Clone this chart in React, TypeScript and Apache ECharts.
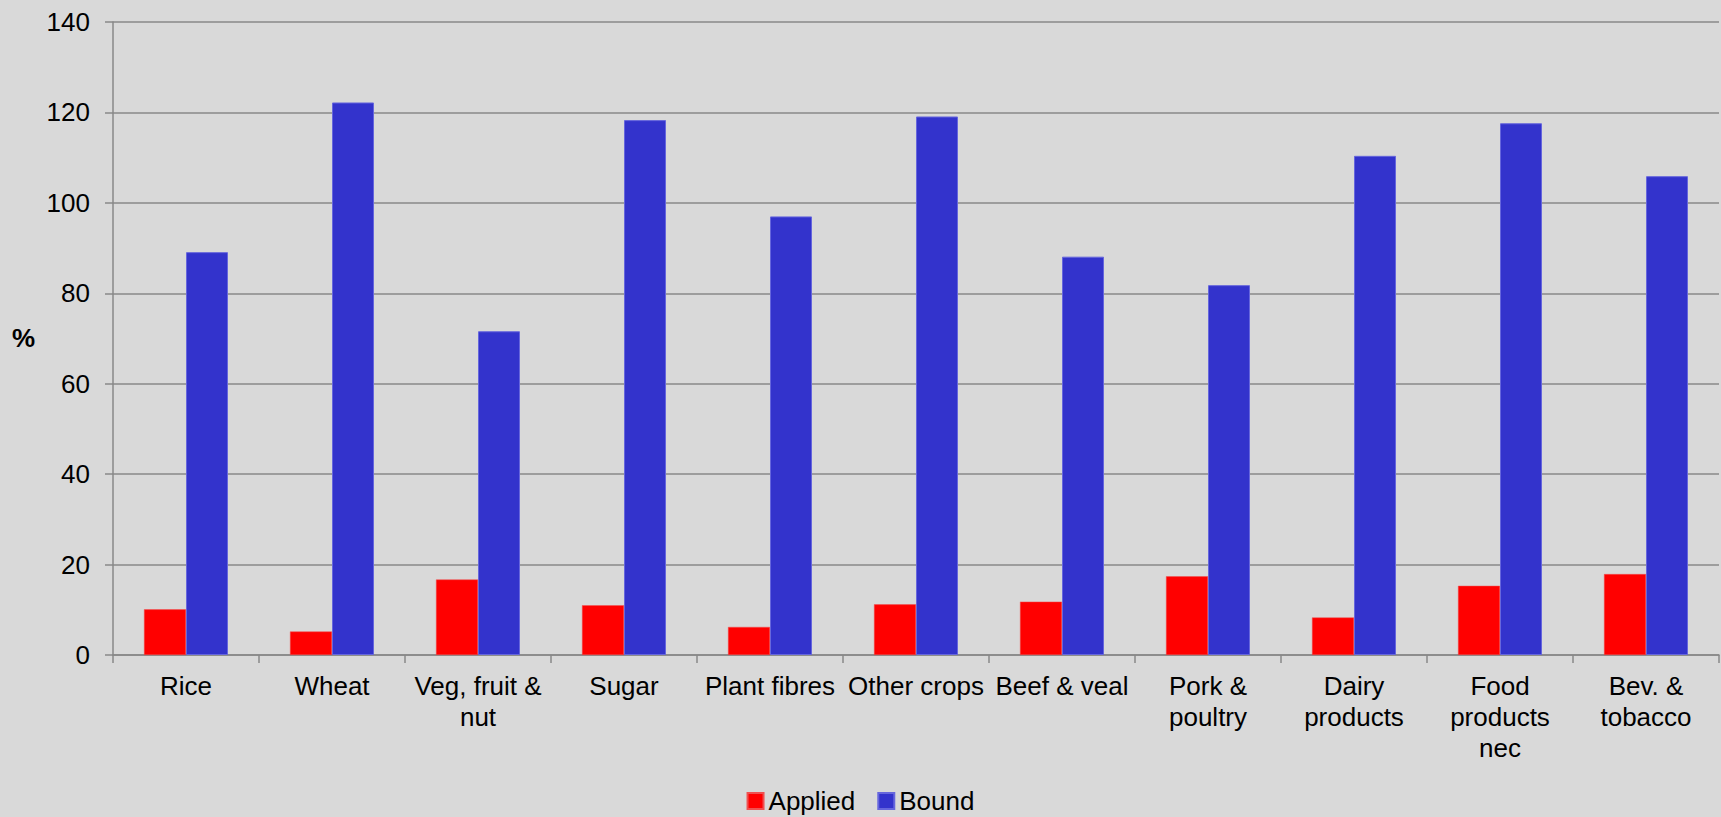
import React, { useEffect, useRef } from "react";
import * as echarts from "echarts";

const categories = [
  "Rice",
  "Wheat",
  "Veg, fruit &\nnut",
  "Sugar",
  "Plant fibres",
  "Other crops",
  "Beef & veal",
  "Pork &\npoultry",
  "Dairy\nproducts",
  "Food\nproducts\nnec",
  "Bev. &\ntobacco",
];
const applied = [10.1, 5.2, 16.7, 11.0, 6.2, 11.2, 11.8, 17.4, 8.3, 15.3, 17.9];
const bound = [89.1, 122.2, 71.6, 118.3, 97.0, 119.1, 88.1, 81.8, 110.4, 117.6, 105.9];
const yTicks = { min: 0, max: 140, interval: 20 };

const FONT = "'Liberation Sans', Arial, sans-serif";

export default function App() {
  const ref = useRef<HTMLDivElement>(null);
  useEffect(() => {
    if (!ref.current) return;
    const chart = echarts.init(ref.current, null, { renderer: "svg" });
    chart.setOption({
      animation: false,
      backgroundColor: "#d9d9d9",
      textStyle: { fontFamily: FONT },
      grid: { left: 113, right: 2, top: 22, bottom: 162, containLabel: false },
      legend: {
        data: ["Applied", "Bound"],
        left: "center",
        top: 788,
        padding: 0,
        itemWidth: 16,
        itemHeight: 16,
        itemGap: 22,
        textStyle: { fontSize: 26, color: "#000", fontFamily: FONT },
        icon: "rect",
      },
      graphic: [
        {
          type: "text",
          left: 12,
          top: 325,
          style: { text: "%", fontSize: 26, fontWeight: "bold", fill: "#000", fontFamily: FONT },
        },
      ],
      xAxis: {
        type: "category",
        data: categories,
        axisLine: { lineStyle: { color: "#888", width: 1.5 } },
        axisTick: { show: true, length: 8, alignWithLabel: false, lineStyle: { color: "#888", width: 1.5 } },
        axisLabel: {
          interval: 0,
          color: "#000",
          fontSize: 26,
          lineHeight: 31,
          margin: 15,
          fontFamily: FONT,
        },
        splitLine: { show: false },
      },
      yAxis: {
        type: "value",
        min: yTicks.min,
        max: yTicks.max,
        interval: yTicks.interval,
        axisLine: { show: true, lineStyle: { color: "#888", width: 1.5 } },
        axisTick: { show: true, length: 8, lineStyle: { color: "#888", width: 1.5 } },
        axisLabel: { color: "#000", fontSize: 26, margin: 23, fontFamily: FONT },
        splitLine: { show: true, lineStyle: { color: "#888", width: 1.5 } },
      },
      series: [
        {
          name: "Applied",
          type: "bar",
          data: applied,
          barWidth: 42,
          barGap: "0%",
          itemStyle: { color: "#ff0000", borderColor: "#f05050", borderWidth: 0.5 },
        },
        {
          name: "Bound",
          type: "bar",
          data: bound,
          barWidth: 42,
          barGap: "0%",
          itemStyle: { color: "#3333cc", borderColor: "#6666dd", borderWidth: 1 },
        },
      ],
    });
    return () => chart.dispose();
  }, []);
  return (
    <div
      ref={ref}
      style={{ position: "fixed", left: 0, top: 0, width: 1721, height: 817 }}
    />
  );
}
